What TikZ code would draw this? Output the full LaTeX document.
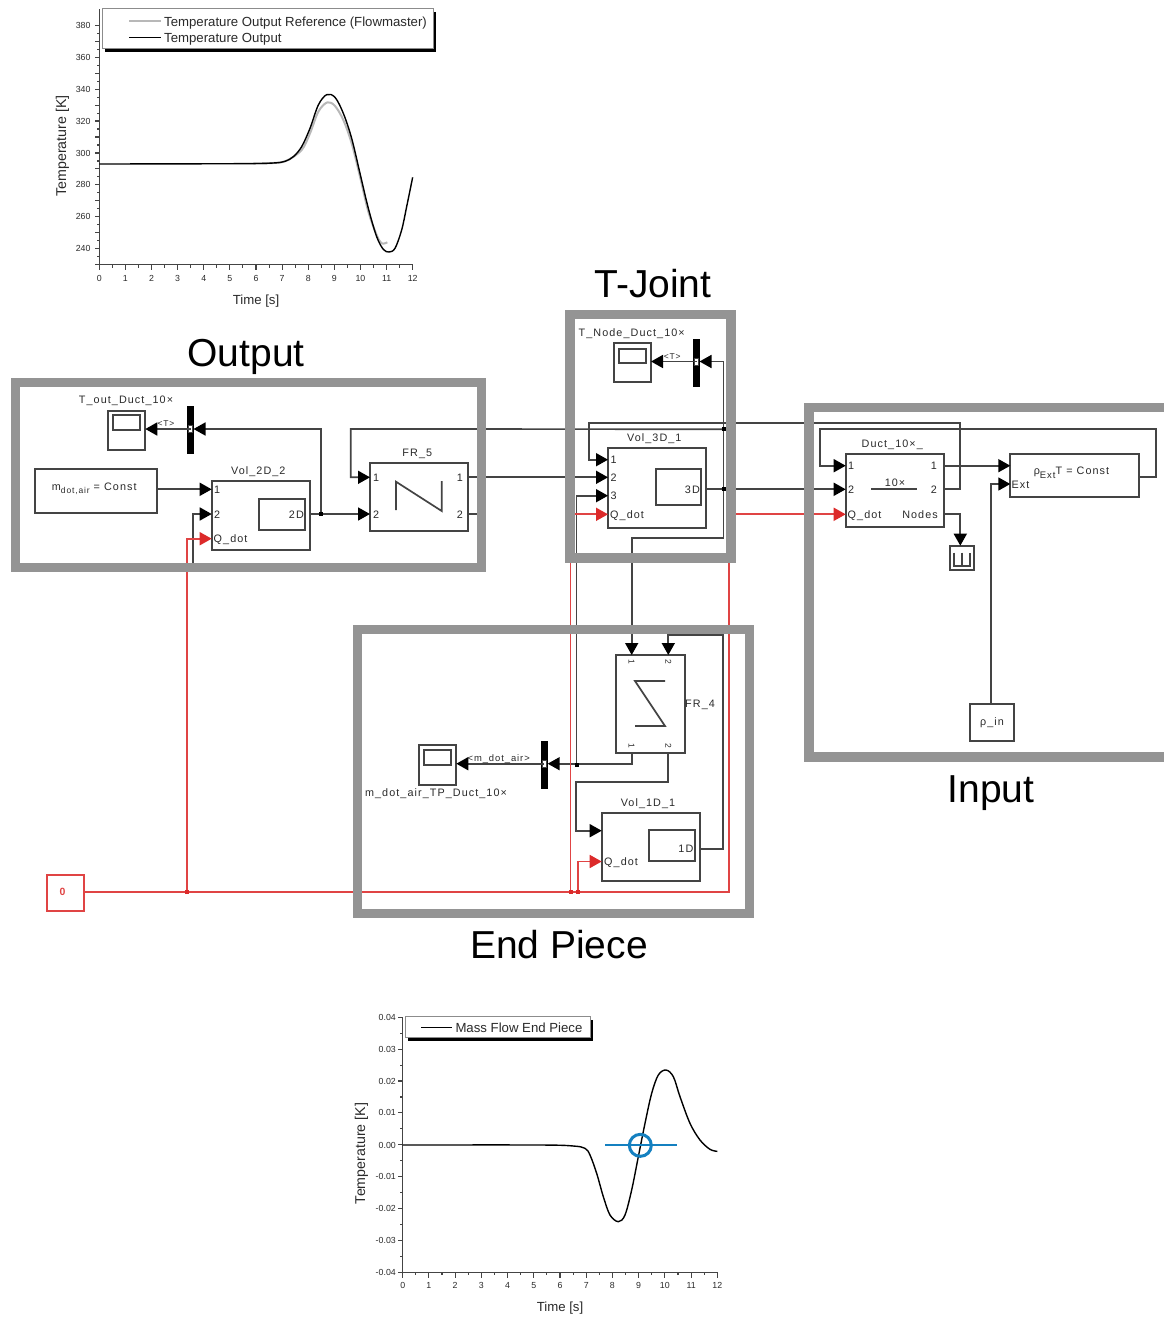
\documentclass[tikz,border=0pt]{standalone}
\usepackage{fontspec}
\setmainfont{Liberation Sans}
\newfontfamily\simfont[LetterSpace=10]{Liberation Sans}
\usetikzlibrary{arrows.meta}
\definecolor{wirec}{HTML}{444444}
\definecolor{framec}{HTML}{949494}
\definecolor{redw}{HTML}{E04444}
\definecolor{redh}{HTML}{DC2A2A}
\definecolor{txtc}{HTML}{2A2A2A}
\definecolor{bluec}{HTML}{1480C0}
\tikzset{
  wire/.style={line width=1.7pt,draw=wirec},
  wa/.style={wire,-{Triangle[length=12pt,width=13pt,color=black]}},
  rw/.style={line width=1.7pt,draw=redw},
  ra/.style={rw,-{Triangle[length=12pt,width=13pt,color=redh]}},
  blockst/.style={draw=wirec,line width=1.7pt,fill=white,inner sep=0pt,outer sep=0pt},
  frm/.style={draw=framec,line width=9.2pt,line join=miter},
  lab/.style={inner sep=0pt,yshift=-0.8pt,text height=8pt,text depth=2pt,font=\simfont\fontsize{10.8}{12}\selectfont,text=txtc},
  heading/.style={inner sep=0pt,font=\fontsize{39}{42}\selectfont,text=black},
  axl/.style={inner sep=0pt,font=\fontsize{13.2}{15}\selectfont,text=txtc},
  ayl/.style={inner sep=0pt,font=\fontsize{14.2}{15}\selectfont,text=txtc},
  tickl/.style={inner sep=0pt,font=\fontsize{8.8}{10}\selectfont,text=txtc},
  ax/.style={line width=1.1pt,draw=wirec},
  bardem/.style={fill=black,inner sep=0pt,minimum width=7.2pt,minimum height=47.5pt},
  barwin/.style={draw=wirec,fill=white,line width=0.6pt,inner sep=0pt,minimum width=4pt,minimum height=7pt},
  jdot/.style={fill=black,inner sep=0pt,minimum size=4pt},
  rdot/.style={fill=redh,inner sep=0pt,minimum size=4pt},
  curve/.style={line width=1.4pt,draw=black,line join=round},
  graycurve/.style={line width=2pt,draw=black!28,line join=round},
}
\newcommand{\blk}[6][]{%
  \pgfmathsetmacro\bw{#5-#3}\pgfmathsetmacro\bh{#6-#4}%
  \pgfmathsetmacro\cx{(#3+#5)/2}\pgfmathsetmacro\cy{(#4+#6)/2}%
  \node[blockst,#1,minimum width=\bw pt,minimum height=\bh pt] (#2) at (\cx,\cy) {};}
\begin{document}
\begin{tikzpicture}[x=1pt,y=-1pt]
\useasboundingbox (0,0) rectangle (1164,1318);
\fill[white] (0,0) rectangle (1164,1318);

% ---------- top plot ----------
\draw[ax] (99.3,9) -- (99.3,264.7) -- (412.7,264.7);
\foreach \k in {0,...,24}{\pgfmathsetmacro\tx{99.3+13.058*\k}
  \pgfmathtruncatemacro\mj{1-mod(\k,2)}
  \draw[ax] (\tx,264.7) -- ++(0,{3+2.5*\mj});}
\foreach \k in {0,...,12}{\pgfmathsetmacro\tx{99.3+26.117*\k}
  \node[tickl,anchor=base] (xa\k) at (\tx,281.2) {\k};}
\foreach \k in {0,...,15}{\pgfmathsetmacro\ty{264.7-7.98*(2*\k)}
  \ifnum\k<16 \draw[ax] (99.3,\ty) -- ++(-4.5,0);\fi
  \pgfmathsetmacro\tz{264.7-7.98*(2*\k+1)}
  \ifnum\k<15 \draw[ax] (99.3,\tz) -- ++(-2.5,0);\fi}
\foreach \v/\ty in {380/25.3,360/57.2,340/89.1,320/121,300/153,280/184.9,260/216.8,240/248.7}{
  \node[tickl,anchor=east] (ya\v) at (90.7,\ty) {\v};
  \draw[ax] (99.3,\ty) -- ++(-4.5,0);}
\node[ayl,rotate=90] (ytitleA) at (62.5,146) {Temperature [K]};
\node[axl] (xtitleA) at (256,301) {Time [s]};
\begin{scope}[shift={(40pt,0pt)},x=0.33333pt,y=-0.33333pt]
\draw[graycurve] plot[smooth,tension=0.55] coordinates {(640,490) (700,489) (740,482) (785,450) (810,400) (835,335) (862,307) (885,318) (910,360) (935,430) (960,530) (985,635) (1010,705) (1025,730) (1042,727)};
\draw[curve] plot[smooth,tension=0.55] coordinates {(178,492) (600,491) (700,489) (735,484) (760,470) (785,440) (810,385) (835,315) (860,284) (885,292) (910,340) (935,415) (960,520) (985,625) (1010,710) (1030,748) (1047,756) (1065,745) (1085,690) (1100,620) (1118,532)};
\end{scope}
\fill[black] (105,12) rectangle (435.5,52);
\node[draw=black!45,line width=0.7pt,fill=white,minimum width=331pt,minimum height=40pt,inner sep=0pt] (legA) at (267.5,28) {};
\draw[graycurve] (129,21) -- (161,21);
\draw[curve] (129,37.5) -- (161,37.5);
\node[axl,anchor=west] (legA1) at (164,23) {Temperature Output Reference (Flowmaster)};
\node[axl,anchor=west] (legA2) at (164,39) {Temperature Output};

% ---------- headings ----------
\node[heading] (hT) at (653,284) {T-Joint};
\node[heading] (hO) at (246,356.5) {Output};
\node[heading] (hI) at (991,793.5) {Input};
\node[heading] (hE) at (559,945) {End Piece};

% ---------- blocks ----------
% Output group
\blk{scA}{107.7}{410.7}{145.3}{449.7}
\blk{scAw}{113}{415.3}{140.3}{430.3}
\node[bardem] (barA) at (190.5,430) {};
\node[barwin] (barAw) at (190.3,429) {};
\blk{cst}{35}{468.7}{157.3}{513.3}
\blk{vB}{211.7}{481}{309.7}{549.7}
\blk{vBw}{259.3}{499.3}{305}{530}
\blk{frF}{370}{462.7}{468.3}{531.3}
\draw[wire] (396,510) -- (396,481.7) -- (441.7,511) -- (441.7,481);
% T-joint group
\blk{scT}{614.3}{343.3}{651}{382.3}
\blk{scTw}{619.3}{348.7}{646.3}{363.3}
\node[bardem] (barT) at (696.6,363) {};
\node[barwin] (barTw) at (696.6,361.5) {};
\blk{vD}{608}{448}{706}{528}
\blk{vDw}{655.7}{468.7}{701.3}{504.7}
% Input group
\blk{du}{845.7}{454.3}{943.7}{527.3}
\draw[wire] (871.3,489.3) -- (917.3,489.3);
\blk{rho}{1010.3}{454.3}{1139}{497}
\blk{term}{949.7}{545.7}{974.3}{570.3}
\draw[wire] (954,552.7) -- (954,566) -- (970,566) -- (970,552.7);
\draw[wire] (961.7,552.7) -- (961.7,566);
\blk{pin}{970}{703.7}{1014.3}{740.7}
% End piece group
\blk{frG}{616.3}{655}{685.3}{752.7}
\draw[wire] (665,681) -- (635,681) -- (665,726) -- (635,726);
\blk{scM}{419}{745.3}{456.3}{784.7}
\blk{scMw}{424}{750.3}{451}{765.3}
\node[bardem] (barM) at (544.3,765.2) {};
\node[barwin] (barMw) at (544,763.7) {};
\blk{vA}{601.7}{813.3}{700}{880.7}
\blk{vAw}{649.3}{830.3}{695.3}{861.3}
% Constant
\node[draw=redw,line width=1.7pt,fill=white,inner sep=0pt,minimum size=36.5pt] (zero) at (65.5,893) {};

% ---------- ports ----------
\coordinate (scAr) at (145.3,429);
\coordinate (barAr) at (193.5,429);
\coordinate (vBi1) at (211.7,489.3);
\coordinate (vBi2) at (211.7,514);
\coordinate (vBq) at (211.7,538.7);
\coordinate (vBo) at (309.7,514);
\coordinate (frFi1) at (370,477.3);
\coordinate (frFi2) at (370,514);
\coordinate (frFo1) at (468.3,477.3);
\coordinate (frFo2) at (468.3,514);
\coordinate (scTr) at (651,361.5);
\coordinate (barTr) at (699.5,361.5);
\coordinate (vDi1) at (608,459.7);
\coordinate (vDi2) at (608,477.3);
\coordinate (vDi3) at (608,495.7);
\coordinate (vDq) at (608,514.3);
\coordinate (vDo) at (706,489.3);
\coordinate (dui1) at (845.7,465.7);
\coordinate (dui2) at (845.7,489.3);
\coordinate (duq) at (845.7,514.3);
\coordinate (duo1) at (943.7,465.7);
\coordinate (duo2) at (943.7,489.3);
\coordinate (duN) at (943.7,514.3);
\coordinate (rhoi1) at (1010.3,465.7);
\coordinate (rhoi2) at (1010.3,484);
\coordinate (rhoo) at (1139,477.3);
\coordinate (termt) at (960.3,545.7);
\coordinate (pint) at (991,703.7);
\coordinate (frGt1) at (631.7,655);
\coordinate (frGt2) at (668.3,655);
\coordinate (frGb1) at (631.7,752.7);
\coordinate (frGb2) at (668.3,752.7);
\coordinate (scMr) at (456.3,763.7);
\coordinate (barMr) at (547.7,763.7);
\coordinate (vAi) at (601.7,830.7);
\coordinate (vAq) at (601.7,861.5);
\coordinate (vAo) at (700,848.7);
% wire bends and junctions
\coordinate (jA) at (321.3,514.4);
\coordinate (jB) at (723.5,429.2);
\coordinate (jC) at (723.5,489.3);
\coordinate (jD) at (576.5,764.5);
\coordinate (bA) at (350.7,429);
\coordinate (bB) at (960.3,422.7);
\coordinate (bC) at (589,422.7);
\coordinate (bD) at (723.5,538.3);
\coordinate (bE) at (723.5,361.5);
\coordinate (bF) at (1155.7,477.3);
\coordinate (bG) at (1155.7,429);
\coordinate (bH) at (820.3,429);
\coordinate (bI) at (960.3,489.3);
\coordinate (bJ) at (960.3,514.3);
\coordinate (bK) at (722.7,635.3);
\coordinate (bL) at (668.3,635.3);
\coordinate (bM) at (576.3,782);
\coordinate (fA) at (482,514);
\coordinate (fB) at (192.7,566);
\coordinate (rA) at (187,892);
\coordinate (rB) at (570.5,892);
\coordinate (rC) at (577.7,892);
\coordinate (rD) at (729,892);
\coordinate (rE) at (729,514.3);

% ---------- wires ----------
\draw[wa] (cst.east |- vBi1) -- (vBi1);
\draw[wa] (fB) |- (vBi2);
\draw[wa] (vBo) -- (frFi2);
\draw[wa] (jA) |- (barAr);
\draw[wa] (barA.center |- scAr) -- (scAr);
\draw[wa] (jB) -- (bA) |- (frFi1);
\draw[wa] (frFo1) -- (vDi2);
\draw[wire] (frFo2) -- (fA);
\draw[wa] (jD) |- (vDi3);
\draw[wa] (duo2) -- (bI) -- (bB) -- (bC) |- (vDi1);
\draw[wa] (vDo) -- (dui2);
\draw[wa] (bD) -- (bE) -- (barTr);
\draw[wa] (barT.center |- scTr) -- (scTr);
\draw[wa] (bD) -| (frGt1);
\draw[wa] (duo1) -- (rhoi1);
\draw[wa] (rhoo) -- (bF) -- (bG) -- (bH) |- (dui1);
\draw[wa] (pint) |- (rhoi2);
\draw[wa] (duN) -- (bJ) -- (termt);
\draw[wa] (vAo) -| (bK) -- (bL) -- (frGt2);
\draw[wa] (frGb1) |- (barMr);
\draw[wa] (barM.center |- scMr) -- (scMr);
\draw[wa] (frGb2) |- (bM) |- (vAi);
% red
\draw[rw] (zero.east |- rA) -- (rD) -- (rE);
\draw[ra] (rE) -- (duq);
\draw[ra] (rA) |- (vBq);
\draw[ra] (rB) |- (vDq);
\draw[ra] (rC) |- (vAq);
\node[rdot] (rdA) at (rA) {};
\node[rdot] (rdB) at (rB) {};
\node[rdot] (rdC) at (rC) {};
\node[jdot] (jdA) at (jA) {};
\node[jdot] (jdB) at (jB) {};
\node[jdot] (jdC) at (jC) {};
\node[jdot] (jdD) at (jD) {};

% ---------- frames (over the wires) ----------
\draw[frm] (15.5,382.5) rectangle (481.2,567.4);
\draw[frm] (570,314.8) rectangle (731,558);
\draw[frm] (357.2,629.4) rectangle (749.2,913.2);
\draw[frm] (1164,407.5) -- (808.9,407.5) -- (808.9,756.9) -- (1164,756.9);

% ---------- block labels ----------
\node[lab] (l1) at (126,400) {T\_out\_Duct\_10×};
\node[lab] (l2) at (166,423) {\fontsize{8.5}{10}\selectfont <T>};
\node[lab] (l3) at (94.3,486.7) {m\raisebox{-3pt}{\fontsize{8.5}{9}\selectfont dot,air} = Const};
\node[lab] (l4) at (258.3,470.7) {Vol\_2D\_2};
\node[lab,anchor=west] (l5) at (214,489.5) {1};
\node[lab,anchor=west] (l6) at (214,514.3) {2};
\node[lab,anchor=west] (l7) at (213.5,539) {Q\_dot};
\node[lab,anchor=east] (l8) at (304,514.3) {2D};
\node[lab] (l9) at (417.3,452.3) {FR\_5};
\node[lab,anchor=west] (l10) at (373,477.5) {1};
\node[lab,anchor=west] (l11) at (373,514.3) {2};
\node[lab,anchor=east] (l12) at (463,477.5) {1};
\node[lab,anchor=east] (l13) at (463,514.3) {2};

\node[lab] (l14) at (631.7,333) {T\_Node\_Duct\_10×};
\node[lab] (l15) at (672.3,356) {\fontsize{8.5}{10}\selectfont <T>};
\node[lab] (l16) at (654.3,437.7) {Vol\_3D\_1};
\node[lab,anchor=west] (l17) at (610.5,459.9) {1};
\node[lab,anchor=west] (l18) at (610.5,477.7) {2};
\node[lab,anchor=west] (l19) at (610.5,495.9) {3};
\node[lab,anchor=west] (l20) at (610,514.5) {Q\_dot};
\node[lab,anchor=east] (l21) at (700,489.5) {3D};

\node[lab] (l22) at (892.3,444) {Duct\_10×\_};
\node[lab,anchor=west] (l23) at (848,465.9) {1};
\node[lab,anchor=west] (l24) at (848,489.5) {2};
\node[lab,anchor=west] (l25) at (847.5,514.5) {Q\_dot};
\node[lab,anchor=east] (l26) at (937,465.9) {1};
\node[lab,anchor=east] (l27) at (937,489.5) {2};
\node[lab,anchor=east] (l28) at (938,514.5) {Nodes};
\node[lab] (l29) at (895,482.7) {10×};
\node[lab] (l30) at (1071.5,471) {ρ\raisebox{-3.5pt}{\fontsize{9.5}{10}\selectfont Ext}T = Const};
\node[lab,anchor=west] (l31) at (1011.5,484.8) {Ext};
\node[lab] (l32) at (992,722) {ρ\_in};

\node[lab,rotate=-90] (l33) at (631.7,661.5) {\fontsize{8.5}{10}\selectfont 1};
\node[lab,rotate=-90] (l34) at (668.3,661.5) {\fontsize{8.5}{10}\selectfont 2};
\node[lab,rotate=-90] (l35) at (631.7,745) {\fontsize{8.5}{10}\selectfont 1};
\node[lab,rotate=-90] (l36) at (668.3,745) {\fontsize{8.5}{10}\selectfont 2};
\node[lab,anchor=west] (l37) at (685,703.5) {FR\_4};
\node[lab] (l38) at (498.7,757.3) {\fontsize{9.4}{10}\selectfont <m\_dot\_air>};
\node[lab] (l39) at (436,792.3) {m\_dot\_air\_TP\_Duct\_10×};
\node[lab] (l40) at (648,803) {Vol\_1D\_1};
\node[lab,anchor=west] (l41) at (604,862) {Q\_dot};
\node[lab,anchor=east] (l42) at (693.5,849) {1D};
\node[lab,text=redw,font=\fontsize{10.5}{12}\selectfont\bfseries] (l43) at (62.5,892) {0};

% ---------- bottom plot ----------
\draw[ax] (402.7,1017) -- (402.7,1272.3) -- (717.3,1272.3);
\foreach \k in {0,...,24}{\pgfmathsetmacro\tx{402.7+13.108*\k}
  \pgfmathtruncatemacro\mj{1-mod(\k,2)}
  \draw[ax] (\tx,1272.3) -- ++(0,{3+2.5*\mj});}
\foreach \k in {0,...,12}{\pgfmathsetmacro\tx{402.7+26.217*\k}
  \node[tickl,anchor=base] (xb\k) at (\tx,1288.2) {\k};}
\foreach \k in {0,...,16}{\pgfmathsetmacro\ty{1272.3-15.94*\k}
  \pgfmathtruncatemacro\mj{1-mod(\k,2)}
  \draw[ax] (402.7,\ty) -- ++({-2.5-2*\mj},0);}
\foreach \v/\ty/\nm in {0.04/1017.3/a,0.03/1049.2/b,0.02/1081/c,0.01/1112.9/d,0.00/1145/e,-0.01/1176.7/f,-0.02/1208.6/g,-0.03/1240.4/h,-0.04/1272.3/i}{
  \node[tickl,anchor=east] (yb\nm) at (396,\ty) {\v};}
\node[ayl,rotate=90] (ytitleB) at (361.5,1153.5) {Temperature [K]};
\node[axl] (xtitleB) at (560,1308.5) {Time [s]};
\begin{scope}[shift={(340pt,-1000pt)},x=0.33333pt,y=-0.33333pt]
\draw[curve] plot[smooth,tension=0.55] coordinates {(188,435) (600,435) (700,438) (735,445) (750,465) (770,520) (790,590) (810,645) (835,665) (855,645) (875,570) (895,470) (915,370) (935,280) (955,225) (978,210) (1000,230) (1020,290) (1050,370) (1080,420) (1110,448) (1132,454)};
\draw[line width=1.7pt,draw=bluec] (795,435) -- (1010,435);
\draw[line width=3pt,draw=bluec] (901,436) circle[radius=33];
\end{scope}
\fill[black] (408.3,1020) rectangle (592.5,1041);
\node[draw=black!45,line width=0.7pt,fill=white,minimum width=184.5pt,minimum height=20.5pt,inner sep=0pt] (legB) at (497.6,1027) {};
\draw[curve] (421,1027.3) -- (451.7,1027.3);
\node[axl,anchor=west] (legB1) at (455.3,1027.5) {Mass Flow End Piece};
\end{tikzpicture}
\end{document}
